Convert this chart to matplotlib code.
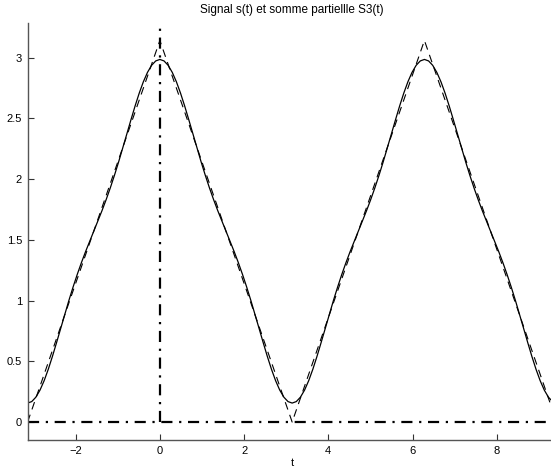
import numpy as np
import matplotlib
matplotlib.use("Agg")
import matplotlib.pyplot as plt

plt.rcParams['font.family'] = ['Liberation Sans', 'DejaVu Sans']

# --- data ---
# triangle signal s(t): corners
s_t = [-np.pi, 0.0, np.pi, 2 * np.pi, 3 * np.pi]
s_val = [0.0, 3.1416, 0.0, 3.1416, 0.0]

# partial sum S3(t) over one half period [0, pi], step pi/32
s3_half = [2.9855, 2.9733, 2.9371, 2.8789, 2.8013, 2.7075, 2.6019, 2.4883,
           2.3711, 2.2537, 2.1394, 2.0302, 1.9273, 1.8310, 1.7406, 1.6545,
           1.5708, 1.4871, 1.4010, 1.3106, 1.2143, 1.1114, 1.0022, 0.8879,
           0.7705, 0.6533, 0.5397, 0.4341, 0.3403, 0.2627, 0.2045, 0.1683,
           0.1561]

xticks = [-2, 0, 2, 4, 6, 8]
yticks = [0, 0.5, 1, 1.5, 2, 2.5, 3]

# even + periodic: mirror the half period across [-pi, 3pi]
s3 = s3_half[::-1] + s3_half[1:] + s3_half[::-1][1:] + s3_half[1:]
t3 = np.linspace(-np.pi, 3 * np.pi, len(s3))

fig = plt.figure(figsize=(5.51, 4.74), dpi=100)
ax = fig.add_axes([27.6 / 551, 34 / 474, 529.1 / 551, 417.3 / 474])

ax.plot(t3, s3, color='black', linewidth=0.9)
ax.plot(s_t, s_val, color='black', linewidth=0.8, linestyle=(0, (7, 5)))

# axes lines
ax.axhline(0, color='black', linewidth=1.6, linestyle=(0, (5, 3, 1, 3)))
ax.plot([0, 0], [0, 3.27], color='black', linewidth=1.6, linestyle=(0, (5, 3, 1, 3)))

ax.set_xlim(-np.pi, 3 * np.pi)
ax.set_ylim(-0.148, 3.288)
ax.set_xticks(xticks)
ax.set_xticklabels([f"\u2212{abs(v)}" if v < 0 else str(v) for v in xticks])
ax.set_yticks(yticks)
ax.set_yticklabels(["0", "0.5", "1", "1.5", "2", "2.5", "3"])

for side in ['top', 'right']:
    ax.spines[side].set_visible(False)
for side in ['left', 'bottom']:
    ax.spines[side].set_color('#555555')
    ax.spines[side].set_linewidth(1.0)
ax.tick_params(direction='in', length=4, width=0.8, color='#333333',
               labelsize=8, pad=4)

ax.set_xlabel("t", fontsize=8, labelpad=2)
ax.set_title("Signal s(t) et somme partiellle S3(t)", fontsize=8.5, pad=7)

fig.savefig("out.png", dpi=100)
